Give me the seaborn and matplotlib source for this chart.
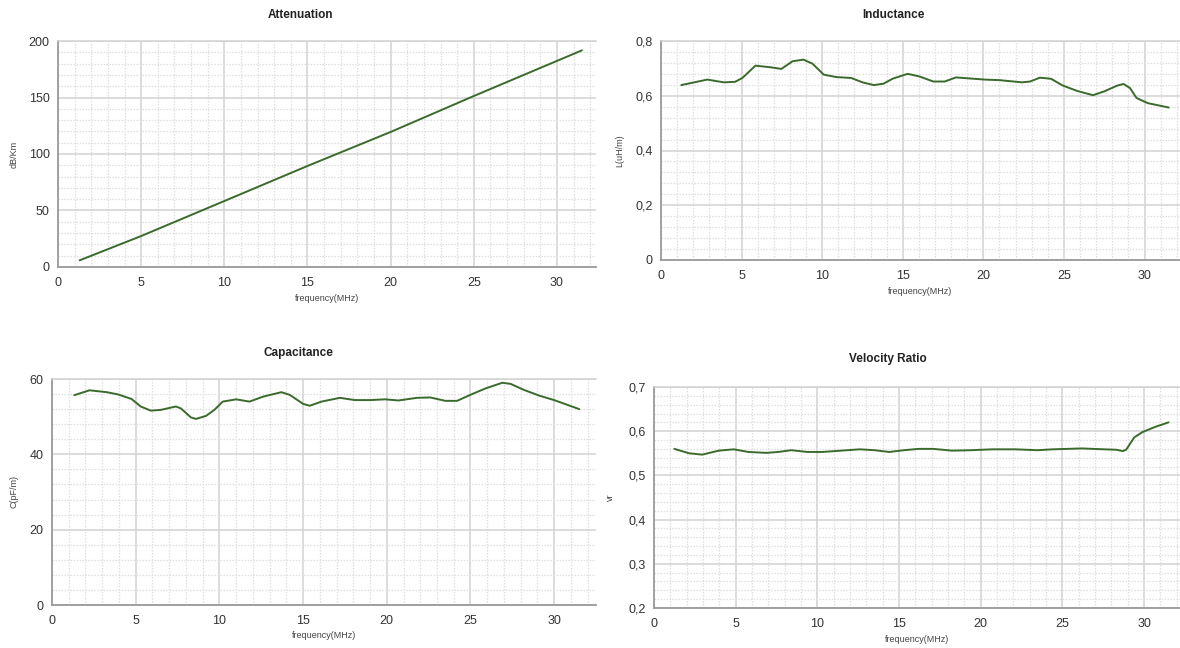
import matplotlib
matplotlib.use("Agg")
import matplotlib.pyplot as plt
from matplotlib.ticker import MultipleLocator, FuncFormatter
import seaborn as sns
import pandas as pd

# ---------------- data ----------------
freq_att = [1.3, 5.0, 10.1, 15.0, 20.0, 25.0, 31.5]
att = [5.9, 27.4, 59.0, 89.4, 119.5, 151.3, 191.7]

freq_ind = [1.26, 2.87, 3.9, 4.6, 5.05, 5.86, 6.8, 7.47, 8.16, 8.84, 9.4, 10.1,
            10.9, 11.8, 12.5, 13.2, 13.8, 14.4, 15.3, 16.0, 16.9, 17.6, 18.3,
            19.2, 20.1, 21.0, 22.4, 22.9, 23.5, 24.2, 24.9, 25.8, 26.8, 27.5,
            28.3, 28.7, 29.1, 29.5, 30.2, 31.5]
ind = [0.639, 0.659, 0.649, 0.651, 0.665, 0.710, 0.704, 0.698, 0.726, 0.732,
       0.717, 0.677, 0.668, 0.665, 0.649, 0.639, 0.644, 0.663, 0.680, 0.671,
       0.652, 0.652, 0.667, 0.663, 0.659, 0.657, 0.649, 0.652, 0.666, 0.662,
       0.638, 0.618, 0.602, 0.616, 0.637, 0.643, 0.628, 0.592, 0.573, 0.557]

freq_cap = [1.33, 2.24, 3.27, 3.95, 4.75, 5.3, 5.9, 6.5, 7.4, 7.7, 8.3, 8.6,
            9.2, 9.7, 10.2, 11.0, 11.8, 12.6, 13.7, 14.2, 15.0, 15.4, 16.1,
            17.2, 18.1, 19.0, 19.9, 20.7, 21.8, 22.6, 23.5, 24.2, 25.1, 25.9,
            26.9, 27.4, 28.2, 29.1, 30.0, 31.5]
cap = [55.7, 57.0, 56.5, 55.9, 54.7, 52.7, 51.6, 51.8, 52.7, 52.2, 49.8, 49.4,
       50.2, 51.8, 54.0, 54.6, 54.0, 55.3, 56.5, 55.8, 53.4, 52.9, 54.0, 55.0,
       54.4, 54.4, 54.6, 54.3, 55.0, 55.1, 54.2, 54.2, 56.0, 57.5, 59.0, 58.7,
       57.1, 55.6, 54.4, 52.0]

freq_vr = [1.25, 2.15, 2.95, 3.97, 4.88, 5.78, 6.9, 7.6, 8.4, 9.4, 10.3, 11.45,
           12.6, 13.5, 14.4, 15.3, 16.2, 17.1, 18.25, 19.4, 20.7, 22.1, 23.5,
           24.4, 26.2, 27.55, 28.3, 28.7, 28.9, 29.4, 29.9, 30.7, 31.5]
vr = [0.560, 0.550, 0.547, 0.556, 0.559, 0.553, 0.551, 0.553, 0.557, 0.553,
      0.553, 0.556, 0.559, 0.557, 0.553, 0.557, 0.560, 0.560, 0.556, 0.557,
      0.559, 0.559, 0.557, 0.559, 0.561, 0.559, 0.558, 0.555, 0.558, 0.586,
      0.598, 0.610, 0.620]

titles = ["Attenuation", "Inductance", "Capacitance", "Velocity Ratio"]
ylabels = ["dB/Km", "L(uH/m)", "C(pF/m)", "vr"]
xlabel = "frequency(MHz)"

# ---------------- style ----------------
sns.set_theme(style="white")
plt.rcParams["font.family"] = ["Liberation Sans", "DejaVu Sans"]

LINE = "#3a6a2c"
MAJ = "#d2d2d2"
MIN = "#dedede"

fig = plt.figure(figsize=(11.8, 6.48), dpi=100)

W, H = 1180.0, 648.0


def box(l, r, t, b):
    return [l / W, 1 - b / H, (r - l) / W, (b - t) / H]


specs = [
    dict(pos=box(58, 596, 41, 267), x=freq_att, y=att, ylim=(0, 200), ymaj=50, ymin=10,
         xlim=(0, 32.35), comma=False, title_xy=(300, 15), xl_y=299, yl_x=14),
    dict(pos=box(661, 1180, 41, 260), x=freq_ind, y=ind, ylim=(0, 0.8), ymaj=0.2, ymin=0.04,
         xlim=(0, 32.2), comma=True, title_xy=(893, 15), xl_y=291, yl_x=620),
    dict(pos=box(52, 596, 379, 605), x=freq_cap, y=cap, ylim=(0, 60), ymaj=20, ymin=4,
         xlim=(0, 32.5), comma=False, title_xy=(298, 353), xl_y=636, yl_x=14),
    dict(pos=box(654, 1180, 387, 608), x=freq_vr, y=vr, ylim=(0.2, 0.7), ymaj=0.1, ymin=0.02,
         xlim=(0, 32.2), comma=True, title_xy=(888, 359), xl_y=640, yl_x=610),
]


def comma_fmt(v, pos):
    if abs(v) < 1e-9:
        return "0"
    return ("%.1f" % v).replace(".", ",")


for i, s in enumerate(specs):
    ax = fig.add_axes(s["pos"])
    df = pd.DataFrame({"f": s["x"], "v": s["y"]})
    sns.lineplot(data=df, x="f", y="v", ax=ax, color=LINE, linewidth=1.4)
    ax.set_xlim(*s["xlim"])
    ax.set_ylim(*s["ylim"])
    ax.xaxis.set_major_locator(MultipleLocator(5))
    ax.xaxis.set_minor_locator(MultipleLocator(1))
    ax.yaxis.set_major_locator(MultipleLocator(s["ymaj"]))
    ax.yaxis.set_minor_locator(MultipleLocator(s["ymin"]))
    if s["comma"]:
        ax.yaxis.set_major_formatter(FuncFormatter(comma_fmt))
    ax.grid(True, which="major", color=MAJ, linewidth=1.1, linestyle="-")
    ax.grid(True, which="minor", color=MIN, linewidth=0.9, linestyle=(0, (1.2, 1.2)))
    ax.set_axisbelow(True)
    for side in ["left", "bottom"]:
        ax.spines[side].set_visible(True)
        ax.spines[side].set_color("#9a9a9a")
        ax.spines[side].set_linewidth(1.3)
    ax.spines["top"].set_visible(True)
    ax.spines["top"].set_color(MAJ)
    ax.spines["top"].set_linewidth(1.1)
    ax.spines["right"].set_visible(False)
    ax.tick_params(axis="y", which="major", length=4, width=1, color="#9a9a9a",
                   direction="out", labelsize=9, labelcolor="#333333", pad=2)
    ax.tick_params(axis="x", which="major", length=0, labelsize=9,
                   labelcolor="#333333", pad=7)
    ax.tick_params(which="minor", length=0)
    ax.set_xlabel("")
    ax.set_ylabel("")
    tx, ty = s["title_xy"]
    fig.text(tx / W, 1 - ty / H, titles[i], ha="center", va="center",
             fontsize=8.5, fontweight="bold", color="#222222")
    l, b, w, h = s["pos"]
    fig.text(l + w / 2, 1 - s["xl_y"] / H, xlabel, ha="center", va="center",
             fontsize=6.5, color="#444444")
    fig.text(s["yl_x"] / W, b + h / 2, ylabels[i], ha="center", va="center",
             rotation=90, fontsize=6.5, color="#444444")

fig.savefig("out.png", dpi=100, facecolor="white")
